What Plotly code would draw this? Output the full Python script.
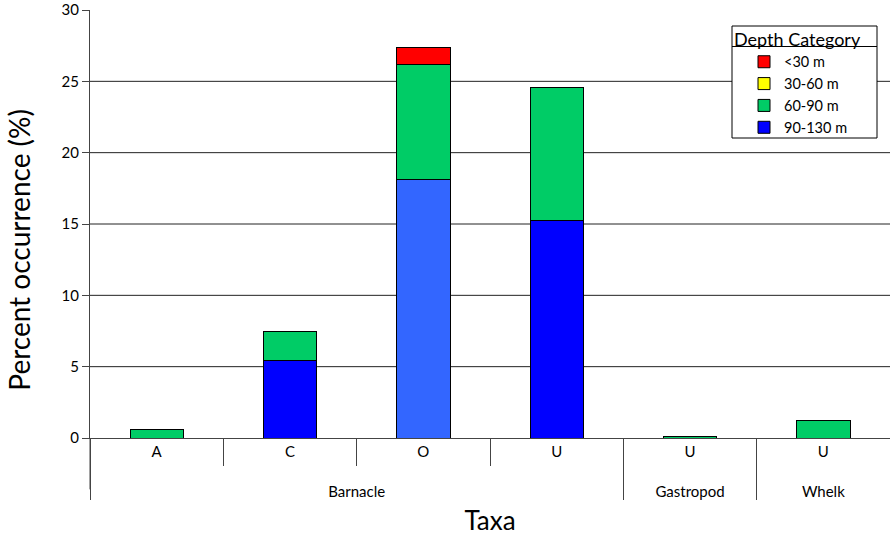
import plotly.graph_objects as go

# categories (outer group, inner label)
groups = ["Barnacle", "Barnacle", "Barnacle", "Barnacle", "Gastropod", "Whelk"]
labels = ["A", "C", "O", "U", "U", "U"]

# percent occurrence by depth category
d_90_130 = [0, 5.4, 18.15, 15.25, 0, 0]
d_60_90 = [0.6, 2.1, 8.0, 9.3, 0.08, 1.25]
d_30_60 = [0, 0, 0, 0, 0, 0]
d_lt30 = [0, 0, 1.2, 0, 0, 0]

y_ticks = [0, 5, 10, 15, 20, 25, 30]

blue = ["#0000FF", "#0000FF", "#3366FF", "#0000FF", "#0000FF", "#0000FF"]

font = "Lato, 'Open Sans', sans-serif"


def plot():
    fig = go.Figure()
    # leading line break pushes the group names further below the inner labels
    x = [["<br>" + g for g in groups], labels]
    line = dict(color="black", width=1)

    fig.add_trace(go.Bar(x=x, y=d_90_130, name="90-130 m",
                         marker=dict(color=blue, line=line)))
    fig.add_trace(go.Bar(x=x, y=d_60_90, name="60-90 m",
                         marker=dict(color="#00CC66", line=line)))
    fig.add_trace(go.Bar(x=x, y=d_30_60, name="30-60 m",
                         marker=dict(color="#FFFF00", line=line)))
    fig.add_trace(go.Bar(x=x, y=d_lt30, name="<30 m",
                         marker=dict(color="#FF0000", line=line)))

    # horizontal gridlines (none at the top edge)
    for v in y_ticks[1:-1]:
        fig.add_shape(type="line", xref="paper", x0=0, x1=1, yref="y", y0=v, y1=v,
                      line=dict(color="#222222", width=1), layer="below")

    # y axis line continues down through the category labels
    fig.add_shape(type="line", xref="paper", x0=0, x1=0, yref="paper", y0=0, y1=-0.12,
                  line=dict(color="#444444", width=1))

    # legend box with a ruled-off title
    fig.add_shape(type="rect", xref="paper", yref="paper",
                  x0=0.8025, x1=0.98375, y0=0.7009, y1=0.9626,
                  fillcolor="white", line=dict(color="black", width=1))
    fig.add_shape(type="line", xref="paper", yref="paper",
                  x0=0.8025, x1=0.98375, y0=0.9147, y1=0.9147,
                  line=dict(color="black", width=1))

    fig.add_annotation(text="Percent occurrence (%)", textangle=-90,
                       xref="paper", yref="paper", x=0, y=0.44,
                       xanchor="center", yanchor="middle", xshift=-71,
                       showarrow=False, font=dict(size=28))

    fig.update_layout(
        width=890, height=536,
        margin=dict(l=90, r=0, t=10, b=98),
        barmode="stack",
        bargap=0.6,
        plot_bgcolor="white",
        paper_bgcolor="white",
        font=dict(family=font, color="black"),
        legend=dict(
            title=dict(text="Depth Category", font=dict(size=18)),
            traceorder="reversed",
            x=0.8025, y=0.971, xanchor="left", yanchor="top",
            borderwidth=0, bgcolor="rgba(0,0,0,0)",
            font=dict(size=14.5), itemwidth=30, tracegroupgap=0,
            indentation=12,
        ),
        xaxis=dict(
            type="multicategory",
            showdividers=True, dividercolor="#444444", dividerwidth=1,
            ticks="outside", tickson="boundaries", ticklen=27, tickcolor="#444444",
            showline=True, linecolor="#444444", linewidth=1,
            tickfont=dict(size=15),
            title=dict(text="Taxa", font=dict(size=26), standoff=13),
            showgrid=False,
        ),
        yaxis=dict(
            range=[0, 30], tickvals=y_ticks,
            showgrid=False, zeroline=False,
            showline=True, linecolor="#444444", linewidth=1,
            ticks="outside", ticklen=7, tickcolor="#444444",
            tickfont=dict(size=15),
        ),
    )
    return fig


fig = plot()
fig.write_html("out.html", config={"displayModeBar": False},
               post_script="document.body.style.margin = '0';")
